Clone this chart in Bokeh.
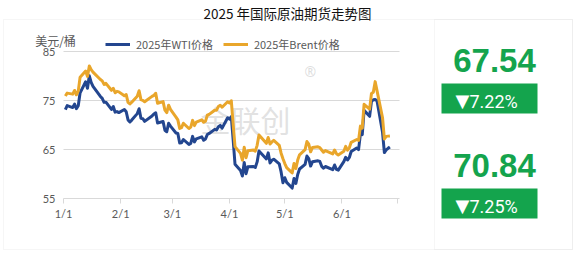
from datetime import datetime
from bokeh.plotting import figure
from bokeh.models import Range1d, FixedTicker, Label, BoxAnnotation, Legend, LegendItem
from bokeh.embed import file_html
from bokeh.resources import INLINE

# ---------------- data ----------------
dates = [
    "1/2", "1/3", "1/6", "1/7", "1/8", "1/9", "1/10", "1/13", "1/14", "1/15", "1/16", "1/17",
    "1/21", "1/22", "1/23", "1/24", "1/27", "1/28", "1/29", "1/30", "1/31",
    "2/3", "2/4", "2/5", "2/6", "2/7", "2/10", "2/11", "2/12", "2/13", "2/14",
    "2/18", "2/19", "2/20", "2/21", "2/24", "2/25", "2/26", "2/27", "2/28",
    "3/3", "3/4", "3/5", "3/6", "3/7", "3/10", "3/11", "3/12", "3/13", "3/14",
    "3/17", "3/18", "3/19", "3/20", "3/21", "3/24", "3/25", "3/26", "3/27", "3/28", "3/31",
    "4/1", "4/2", "4/3", "4/4", "4/7", "4/8", "4/9", "4/10", "4/11", "4/14", "4/15",
    "4/16", "4/17", "4/21", "4/22", "4/23", "4/24", "4/25", "4/28", "4/29", "4/30",
    "5/1", "5/2", "5/5", "5/6", "5/7", "5/8", "5/9", "5/12", "5/13", "5/14", "5/15",
    "5/16", "5/19", "5/20", "5/21", "5/22", "5/23", "5/27", "5/28", "5/29", "5/30",
    "6/2", "6/3", "6/4", "6/5", "6/6", "6/9", "6/10", "6/11", "6/12", "6/13",
    "6/16", "6/17", "6/18", "6/19", "6/20", "6/23", "6/24", "6/25", "6/26", "6/27",
]
wti = [
    73.13, 73.96, 73.56, 74.25, 73.32, 73.92, 76.57, 78.82, 77.50, 80.04, 78.68, 77.88,
    75.83, 75.44, 74.62, 74.66, 73.17, 73.77, 72.62, 72.73, 72.53,
    73.16, 72.70, 71.03, 70.61, 71.00, 72.32, 73.32, 71.37, 71.29, 70.74,
    71.85, 72.25, 72.48, 70.40, 70.70, 68.93, 68.62, 70.35, 69.76,
    68.37, 68.26, 66.31, 66.36, 67.04, 66.03, 66.25, 67.68, 66.55, 67.18,
    67.58, 66.90, 67.16, 68.07, 68.28, 69.11, 69.00, 69.65, 69.92, 69.36, 71.48,
    71.20, 71.71, 66.95, 61.99, 60.70, 59.58, 62.35, 60.07, 61.50, 61.53, 61.33,
    62.47, 64.68, 63.08, 64.31, 62.27, 62.79, 63.02, 62.05, 60.42, 58.21,
    59.24, 58.29, 57.13, 59.09, 58.07, 59.91, 61.02, 61.95, 63.67, 63.15, 61.62,
    62.49, 62.69, 62.56, 61.57, 61.20, 61.53, 60.89, 61.84, 60.94, 60.79,
    62.52, 63.41, 62.85, 63.37, 64.58, 65.29, 64.98, 68.15, 68.04, 72.98,
    71.77, 74.84, 75.14, 75.20, 74.93, 68.51, 64.37, 64.92, 65.24, 65.52,
]
brent = [
    75.93, 76.51, 76.30, 77.05, 76.16, 76.92, 79.76, 81.01, 79.92, 82.03, 81.29, 80.79,
    79.29, 79.00, 78.29, 78.50, 77.08, 77.49, 76.58, 76.87, 76.76,
    75.96, 76.20, 74.61, 74.29, 74.66, 75.87, 77.00, 75.18, 75.02, 74.74,
    75.84, 76.04, 76.48, 74.43, 74.78, 73.02, 72.53, 74.04, 73.18,
    71.62, 71.04, 69.30, 69.46, 70.36, 69.28, 69.56, 70.95, 69.88, 70.58,
    71.07, 70.56, 70.78, 72.00, 72.16, 73.00, 73.02, 73.79, 74.03, 73.63, 74.74,
    74.49, 74.95, 70.14, 65.58, 64.21, 62.82, 65.48, 63.33, 64.76, 64.88, 64.67,
    65.85, 67.96, 66.26, 67.44, 66.12, 66.55, 66.87, 65.86, 64.25, 63.12,
    62.13, 61.29, 60.23, 62.15, 61.12, 62.84, 63.91, 64.96, 66.63, 66.09, 64.53,
    65.41, 65.54, 65.38, 64.91, 64.44, 64.78, 64.09, 64.90, 64.15, 63.90,
    64.63, 65.63, 64.86, 65.34, 66.47, 67.04, 66.87, 69.77, 69.36, 74.23,
    73.23, 76.45, 76.70, 78.85, 77.01, 71.48, 67.14, 67.68, 67.73, 67.77,
]
title_text = "2025 年国际原油期货走势图"
unit_text = "美元/桶"
series_names = ["2025年WTI价格", "2025年Brent价格"]
month_ticks = ["1/1", "2/1", "3/1", "4/1", "5/1", "6/1", "7/1"]
month_labels = ["1/1", "2/1", "3/1", "4/1", "5/1", "6/1", ""]
y_ticks = [55, 65, 75, 85]
panel_prices = ["67.54", "70.84"]
panel_changes = ["7.22%", "7.25%"]
down_mark = "▼"
watermark = "金联创"

# ---------------- helpers ----------------
T0 = datetime(2025, 1, 1)


def doy(s):
    return (datetime.strptime("2025/" + s, "%Y/%m/%d") - T0).days


x_days = [doy(d) for d in dates]
tick_days = [doy(d) for d in month_ticks]

W, H = 578, 253
FL, FR, FT, FB = 63, 399, 51, 198   # chart plot-area edges in canvas px
X_END = 182.2                        # day value at the right edge of plot area
PXD = (FR - FL) / X_END              # px per day
PXV = (FB - FT) / (y_ticks[-1] - y_ticks[0])  # px per dollar

WTI_C = "#23468f"
BRENT_C = "#e9a62b"
GREEN = "#14a44d"
GRID = "#d9d9d9"
TXT = "#595959"
BORDER = "#c4c4c4"

p = figure(width=W, height=H, output_backend="svg", toolbar_location=None,
           x_range=Range1d(-FL / PXD, (W - FL) / PXD),
           y_range=Range1d(y_ticks[0] - (H - FB) / PXV, y_ticks[-1] + FT / PXV),
           min_border=0, min_border_left=0, min_border_right=0,
           min_border_top=0, min_border_bottom=0)
p.outline_line_color = None
p.background_fill_color = "white"
p.border_fill_color = "white"
p.grid.visible = False

# axes drawn inside the canvas at fixed locations
xa = p.xaxis[0]
xa.fixed_location = y_ticks[0]
xa.bounds = (0, X_END)
xa.ticker = FixedTicker(ticks=tick_days)
xa.major_label_overrides = {t: lab for t, lab in zip(tick_days, month_labels)}
xa.axis_line_color = GRID
xa.major_tick_line_color = GRID
xa.major_tick_out = 5
xa.major_tick_in = 0
xa.minor_tick_line_color = None
xa.major_label_standoff = 3
xa.major_label_text_font = "Lato"
xa.major_label_text_font_size = "11px"
xa.major_label_text_color = TXT

ya = p.yaxis[0]
ya.fixed_location = 0
ya.bounds = (y_ticks[0], y_ticks[-1])
ya.ticker = FixedTicker(ticks=y_ticks)
ya.axis_line_color = None
ya.major_tick_line_color = None
ya.minor_tick_line_color = None
ya.major_tick_out = 0
ya.major_tick_in = 0
ya.major_label_standoff = 8
ya.major_label_text_font = "Lato"
ya.major_label_text_font_size = "11px"
ya.major_label_text_color = TXT

# horizontal gridlines at the y ticks, limited to the plot area
p.segment(x0=[0] * len(y_ticks[1:]), x1=[X_END] * len(y_ticks[1:]),
          y0=y_ticks[1:], y1=y_ticks[1:], line_color=GRID, line_width=1)


def sx(cx):
    return cx


def sy(cy):
    return H - cy


# watermark
p.add_layout(Label(x=sx(200), y=sy(140), x_units="screen", y_units="screen",
                   text=watermark, text_font="Noto Sans CJK SC", text_font_size="30px",
                   text_color="#bdbdbd", text_alpha=0.45, text_baseline="bottom",
                   level="underlay"))
p.add_layout(Label(x=sx(304), y=sy(80), x_units="screen", y_units="screen",
                   text="®", text_font="Noto Sans", text_font_size="14px",
                   text_color="#bdbdbd", text_alpha=0.5, level="underlay"))

# series
r_wti = p.line(x_days, wti, line_color=WTI_C, line_width=3, line_join="round")
r_brent = p.line(x_days, brent, line_color=BRENT_C, line_width=3, line_join="round")

legend = Legend(items=[LegendItem(label=series_names[0], renderers=[r_wti]),
                       LegendItem(label=series_names[1], renderers=[r_brent])],
                orientation="horizontal", location=(105, sy(52)),
                background_fill_alpha=0, border_line_color=None, padding=0, margin=0,
                spacing=10, glyph_width=25, glyph_height=12, label_height=12,
                label_standoff=6, label_text_font="Noto Sans CJK SC",
                label_text_font_size="11px", label_text_color=TXT)
p.add_layout(legend)

# title and unit
p.add_layout(Label(x=sx(287), y=sy(12), x_units="screen", y_units="screen",
                   text=title_text, text_font="Noto Sans CJK SC", text_font_size="13.5px",
                   text_color="#111111", text_align="center", text_baseline="middle"))
p.add_layout(Label(x=sx(55), y=sy(40), x_units="screen", y_units="screen",
                   text=unit_text, text_font="Noto Sans CJK SC", text_font_size="12px",
                   text_color=TXT, text_align="center", text_baseline="middle"))

# outer dotted frame and divider
for left in (3, 434):
    p.add_layout(BoxAnnotation(left=sx(left), right=sx(572), top=sy(19), bottom=sy(249),
                               left_units="screen", right_units="screen",
                               top_units="screen", bottom_units="screen",
                               fill_alpha=0, line_color=BORDER, line_dash="1 1",
                               line_width=1))

# right panel
price_y = [60, 165]
box_top = [83, 188]
for i in range(2):
    p.add_layout(Label(x=sx(494), y=sy(price_y[i]), x_units="screen", y_units="screen",
                       text=panel_prices[i], text_font="Liberation Sans",
                       text_font_style="bold", text_font_size="33px", text_color=GREEN,
                       text_align="center", text_baseline="middle"))
    p.add_layout(BoxAnnotation(left=sx(441), right=sx(537), top=sy(box_top[i]),
                               bottom=sy(box_top[i] + 30),
                               left_units="screen", right_units="screen",
                               top_units="screen", bottom_units="screen",
                               fill_color=GREEN, fill_alpha=1, line_color=None))
    p.add_layout(Label(x=sx(462), y=sy(box_top[i] + 17), x_units="screen", y_units="screen",
                       text=down_mark, text_font="DejaVu Sans",
                       text_font_size="18px", text_color="white",
                       text_align="center", text_baseline="middle"))
    p.add_layout(Label(x=sx(469), y=sy(box_top[i] + 18), x_units="screen", y_units="screen",
                       text=panel_changes[i], text_font="Roboto",
                       text_font_size="18px", text_color="white",
                       text_align="left", text_baseline="middle"))

open("out.html", "w").write(file_html(p, INLINE))
